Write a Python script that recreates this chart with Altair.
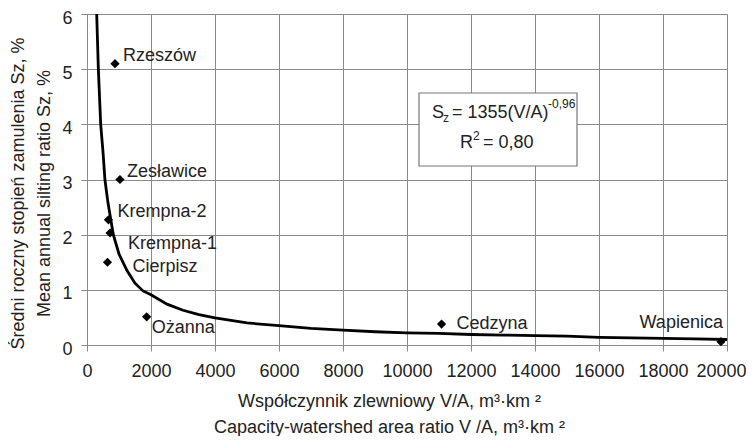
import altair as alt
import pandas as pd

# Reservoir points
names = ["Rzeszów", "Zesławice", "Krempna-2", "Krempna-1", "Cierpisz", "Ożanna", "Cedzyna", "Wapienica"]
va_ratio = [875, 1030, 670, 720, 640, 1865, 11080, 19810]
silting = [5.1, 3.0, 2.27, 2.03, 1.5, 0.51, 0.38, 0.06]

# Trend curve
curve_x = [303, 355, 428, 500, 560, 650, 822, 1000, 1250, 1500, 1750, 2000, 2500, 3000, 3500,
           4000, 5000, 6000, 7000, 8000, 9000, 10000, 11000, 12000, 13000, 14000, 15000,
           16000, 17000, 18000, 19000, 20000]
curve_y = [6.0, 5.0, 4.0, 3.5, 3.0, 2.6, 2.0, 1.65, 1.35, 1.12, 0.98, 0.91, 0.74, 0.63, 0.55,
           0.49, 0.40, 0.35, 0.30, 0.27, 0.24, 0.22, 0.21, 0.19, 0.18, 0.17, 0.16,
           0.14, 0.13, 0.12, 0.11, 0.10]

x_ticks = list(range(0, 20001, 2000))
y_ticks = [0, 1, 2, 3, 4, 5, 6]

FONT = "Liberation Sans"
GRID = "#8a8a8a"
TXT = "#222222"
FS = 18

pts = pd.DataFrame({"name": names, "va": va_ratio, "sz": silting})
crv = pd.DataFrame({"va": curve_x, "sz": curve_y})

xscale = alt.Scale(domain=[0, 20000], nice=False)
yscale = alt.Scale(domain=[0, 6], nice=False)

xax = alt.Axis(values=x_ticks, format="d", grid=True, gridColor=GRID, gridOpacity=1,
               domainColor=GRID, tickColor=GRID, tickSize=6, labelFontSize=FS,
               labelPadding=11, labelColor=TXT, titleFontSize=FS, titleFontWeight="normal",
               titleColor=TXT, titlePadding=12, titleLineHeight=26, labelFlush=False,
               labelOffset={"condition": {"test": "datum.value == 20000", "value": -6}, "value": 0},
               titleX=302)
yax = alt.Axis(values=y_ticks, format="d", grid=True, gridColor=GRID, gridOpacity=1,
               domainColor=GRID, tickColor=GRID, tickSize=6, labelFontSize=FS,
               labelPadding=9, labelOffset=4, labelColor=TXT, titleFontSize=FS,
               titleFontWeight="normal", titleColor=TXT, titlePadding=8, titleLineHeight=26,
               labelFlush=False, titleY=179)

x_title = ["Współczynnik zlewniowy V/A, m³·km ²", "Capacity-watershed area ratio V /A, m³·km ²"]
y_title = ["Średni roczny stopień zamulenia  Sz, %", "Mean annual silting ratio Sz, %"]

line = alt.Chart(crv).mark_line(color="black", strokeWidth=2.8, clip=True).encode(
    x=alt.X("va:Q", scale=xscale, axis=xax, title=x_title),
    y=alt.Y("sz:Q", scale=yscale, axis=yax, title=y_title),
)

points = alt.Chart(pts).mark_point(shape="diamond", filled=True, color="black", size=85, opacity=1).encode(
    x=alt.X("va:Q", scale=xscale),
    y=alt.Y("sz:Q", scale=yscale),
)

offsets = {
    "Rzeszów": (8, -8, "left"),
    "Zesławice": (7, -8, "left"),
    "Krempna-2": (9, -8, "left"),
    "Krempna-1": (18, 11, "left"),
    "Cierpisz": (25, 5, "left"),
    "Ożanna": (5, 11, "left"),
    "Cedzyna": (15, 0, "left"),
    "Wapienica": (2, -19, "right"),
}
label_layers = []
for nm, (dx, dy, al) in offsets.items():
    label_layers.append(
        alt.Chart(pts).transform_filter(alt.datum.name == nm).mark_text(
            font=FONT, fontSize=FS, color=TXT, align=al, baseline="middle", dx=dx, dy=dy
        ).encode(x=alt.X("va:Q", scale=xscale), y=alt.Y("sz:Q", scale=yscale), text="name:N")
    )

one = pd.DataFrame({"a": [0]})


def note(txt, x, y, size):
    return alt.Chart(one).mark_text(text=txt, font=FONT, fontSize=size, color=TXT, align="left",
                                    baseline="middle").encode(x=alt.value(x), y=alt.value(y))


box = alt.Chart(one).mark_rect(fill="white", stroke="#777", strokeWidth=1.2).encode(
    x=alt.value(332), x2=alt.value(490), y=alt.value(79), y2=alt.value(152)
)
eq = [
    note("S", 345, 99, FS),
    note("z", 356, 104, 12),
    note("= 1355(V/A)", 365, 99, FS),
    note("-0,96", 461, 90, 12),
    note("R", 373, 129, FS),
    note("2", 386, 122, 12),
    note("= 0,80", 396, 129, FS),
]

chart = alt.layer(line, points, *label_layers, box, *eq).properties(
    width=640, height=331,
    autosize=alt.AutoSizeParams(type="none"),
    padding={"left": 79, "top": 6, "right": 19, "bottom": 91},
).configure_view(stroke=None).configure(font=FONT, background="white")

chart.save("out.html", embed_options={"renderer": "svg", "actions": False})
